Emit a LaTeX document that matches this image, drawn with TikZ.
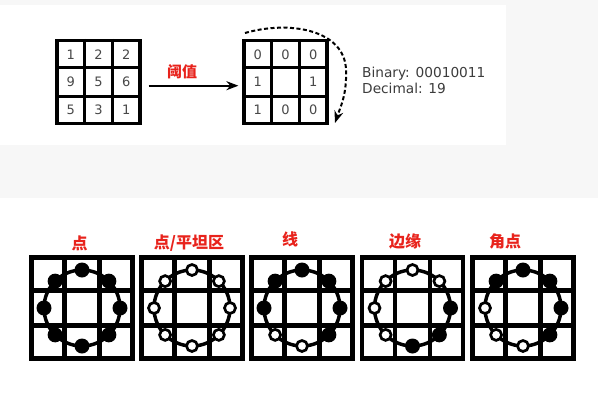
\documentclass[tikz,border=0pt]{standalone}
\usepackage{fontspec}
\setmainfont{DejaVu Sans}
\newfontfamily\cjk{Noto Sans CJK SC}
\usetikzlibrary{calc,arrows.meta}
\definecolor{labelred}{HTML}{E8231C}
\definecolor{numgray}{HTML}{484848}
\definecolor{textgray}{HTML}{3C3C3C}
\definecolor{bggray}{HTML}{F7F7F7}

\begin{document}
\begin{tikzpicture}
        [x=1pt,y=-1pt,
         flow/.style={-{Stealth[length=12pt,width=9pt]},line width=2pt},
         cell/.style={text=numgray,font=\fontsize{13}{14}\selectfont,inner sep=0pt},
         gridbox/.style={draw,line width=3.2pt,minimum size=83pt,inner sep=0pt},
         panel/.style={draw,line width=4.5pt,minimum size=101pt,inner sep=0pt},
         pname/.style={text=labelred,font=\cjk\bfseries\fontsize{16}{18}\selectfont,inner sep=0pt},
         dot1/.style={circle,fill=black,minimum size=15pt,inner sep=0pt},
         dot0/.style={circle,draw,fill=white,line width=2.7pt,minimum size=11pt,inner sep=0pt}]
        %\draw[help lines] (0,0) grid (598,400);
        \fill[bggray] (0,0) rectangle (598,400);
        \fill[white] (0,5) rectangle (506,145);
        \fill[white] (0,198) rectangle (598,400);
        \useasboundingbox (0,0) rectangle (598,400);
        % threshold step
        \node[gridbox] (src) at (98.5,82) {};
        \node[gridbox] (dst) at (285.5,82) {};
        \foreach \g in {src,dst}
          \foreach \f in {1/3,2/3}
            \draw[line width=3.2pt] ($(\g.north west)!\f!(\g.north east)$) -- ($(\g.south west)!\f!(\g.south east)$)
                                    ($(\g.north west)!\f!(\g.south west)$) -- ($(\g.north east)!\f!(\g.south east)$);
        \foreach \v [count=\k from 0] in {1,2,2,9,5,6,5,3,1} {
          \pgfmathtruncatemacro\col{mod(\k,3)}
          \pgfmathtruncatemacro\row{\k/3}
          \node[cell] (s\k) at (98.5+27.7*\col-27.7,82+27.7*\row-27.7) {\v};
        }
        \foreach \v/\k in {0/0,0/1,0/2,1/3,1/5,1/6,0/7,0/8} {
          \pgfmathtruncatemacro\col{mod(\k,3)}
          \pgfmathtruncatemacro\row{\k/3}
          \node[cell] (d\k) at (285.5+27.7*\col-27.7,82+27.7*\row-27.7) {\v};
        }
        \draw[flow,shorten <=7pt,shorten >=4pt]
          ([yshift=-3.7pt]src.east) -- ([yshift=-3.7pt]dst.west);
        \node[text=labelred,font=\cjk\bfseries\fontsize{15}{17}\selectfont,inner sep=0pt] (thr) at (182,72) {阈值};
        \coordinate (c0) at (245,33);
        \coordinate (c1) at (335,123);
        \draw[flow,dash pattern=on 4pt off 2.5pt]
          (c0) .. controls (290,20) and (345,30) .. (346,70) .. controls (347,95) and (340,108) .. (c1);
        \node[anchor=west,align=left,text=textgray,font=\fontsize{13.7}{15.6}\selectfont,inner sep=0pt]
          (code) at (362,80.5) {Binary: 00010011\\Decimal: 19};
        % neighbourhood patterns
        \foreach \i/\cx/\lx/\ly/\txt/\pat in {
            1/82/79.5/243/点/{1,1,1,1,1,1,1,1},
            2/192/189/243/{点/平坦区}/{0,0,0,0,0,0,0,0},
            3/302/290/239/线/{1,1,1,1,0,0,1,1},
            4/412.5/405/241/边缘/{0,0,1,1,1,0,0,0},
            5/523/505/241/角点/{1,1,1,1,0,0,0,1}} {
          \node[pname] (t\i) at (\lx,\ly) {\txt};
          \node[panel] (p\i) at (\cx,308) {};
          \foreach \f in {1/3,2/3}
            \draw[line width=4.5pt] ($(p\i.north west)!\f!(p\i.north east)$) -- ($(p\i.south west)!\f!(p\i.south east)$)
                                    ($(p\i.north west)!\f!(p\i.south west)$) -- ($(p\i.north east)!\f!(p\i.south east)$);
          \draw[line width=3.5pt] (p\i.center) circle[radius=38pt];
          \foreach \v [count=\k] in \pat {
            \pgfmathsetmacro\ang{135-45*\k}
            \node[dot\v] (p\i-\k) at ($(p\i.center)+(\ang:38pt)$) {};
          }
        }
      \end{tikzpicture}
\end{document}
